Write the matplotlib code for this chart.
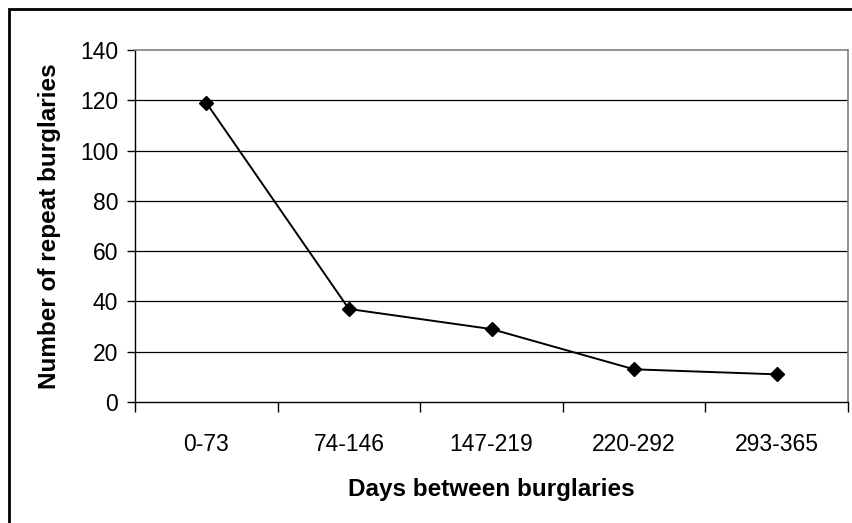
import matplotlib
matplotlib.use("Agg")
import matplotlib.pyplot as plt
from matplotlib.patches import Rectangle

plt.rcParams['font.family'] = ['Liberation Sans', 'DejaVu Sans']

categories = ["0-73", "74-146", "147-219", "220-292", "293-365"]
repeat_burglaries = [119, 37, 29, 13, 11]
y_ticks = [0, 20, 40, 60, 80, 100, 120, 140]

W, H = 852, 523
fig = plt.figure(figsize=(W / 100, H / 100), dpi=100)

# Outer chart frame (only top and left edges fall inside the canvas)
fig.patches.append(Rectangle((9 / W, -0.2), 1.2, 1 - 9 / H + 0.2,
                             transform=fig.transFigure, fill=False,
                             edgecolor='black', linewidth=2.0, zorder=0))

ax = fig.add_axes([135 / W, 1 - 402 / H, (848 - 135) / W, (402 - 50) / H])

x = list(range(len(categories)))
ax.plot(x, repeat_burglaries, color='black', linewidth=1.4,
        marker='D', markersize=7.5, markerfacecolor='black',
        markeredgecolor='black', zorder=3)

ax.set_xlim(-0.5, len(categories) - 0.5)
ax.set_ylim(0, 140)
ax.set_yticks(y_ticks)
ax.set_yticklabels([str(v) for v in y_ticks])
ax.set_xticks(x)
ax.set_xticklabels(categories)
ax.set_xticks([i - 0.5 for i in range(len(categories) + 1)], minor=True)

for v in y_ticks[1:-1]:
    ax.axhline(v, color='black', linewidth=0.9, zorder=1)

for side in ('top', 'right'):
    ax.spines[side].set_color('#808080')
    ax.spines[side].set_linewidth(1.2)
for side in ('left', 'bottom'):
    ax.spines[side].set_color('black')
    ax.spines[side].set_linewidth(1.0)

ax.tick_params(axis='y', which='major', direction='out', length=6,
               width=1, labelsize=16.5, pad=6)
ax.tick_params(axis='x', which='major', length=0, labelsize=16.5, pad=22)
ax.tick_params(axis='x', which='minor', direction='out', length=7, width=1)

ax.set_xlabel("Days between burglaries", fontsize=17.5, fontweight='bold',
              labelpad=16)
ax.set_ylabel("Number of repeat burglaries", fontsize=17.5, fontweight='bold',
              labelpad=14)

fig.savefig("out.png", dpi=100)
